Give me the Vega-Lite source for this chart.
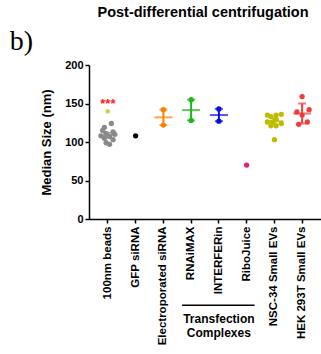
{
  "$schema": "https://vega.github.io/schema/vega-lite/v6.json",
  "autosize": "none",
  "padding": {"left": 89, "top": 65, "right": 0, "bottom": 135},
  "width": 232,
  "height": 154,
  "title": {"text": "Post-differential centrifugation", "font": "Liberation Sans", "fontSize": 14.5, "fontWeight": "bold", "color": "black", "anchor": "middle", "offset": 8, "dx": -2},
  "config": {
    "view": {"stroke": null},
    "axis": {"domainColor": "black", "domainWidth": 1.5, "tickColor": "black", "tickWidth": 1.5, "tickSize": 4, "labelColor": "black", "labelFont": "Liberation Sans", "labelFontWeight": "bold", "titleFont": "Liberation Sans", "titleFontWeight": "bold", "titleColor": "black", "grid": false},
    "axisX": {"labelAngle": -90, "labelFontSize": 11.5, "labelPadding": 3},
    "axisY": {"labelFontSize": 11, "labelPadding": 2, "titleFontSize": 13, "titlePadding": 11, "tickCount": 5}
  },
  "datasets": {
    "pts": [
      {"cat": "100nm beads", "size": 124, "slot": 2},
      {"cat": "100nm beads", "size": 119, "slot": -2},
      {"cat": "100nm beads", "size": 115, "slot": -3},
      {"cat": "100nm beads", "size": 113, "slot": 3},
      {"cat": "100nm beads", "size": 111, "slot": -1},
      {"cat": "100nm beads", "size": 110, "slot": 4},
      {"cat": "100nm beads", "size": 108, "slot": -4},
      {"cat": "100nm beads", "size": 107, "slot": 1},
      {"cat": "100nm beads", "size": 105, "slot": -2},
      {"cat": "100nm beads", "size": 103, "slot": 3},
      {"cat": "100nm beads", "size": 99, "slot": -1},
      {"cat": "100nm beads", "size": 97, "slot": 1},
      {"cat": "GFP siRNA", "size": 108, "slot": 0},
      {"cat": "Electroporated siRNA", "size": 142, "slot": 0},
      {"cat": "Electroporated siRNA", "size": 122, "slot": 0},
      {"cat": "RNAiMAX", "size": 155, "slot": 0},
      {"cat": "RNAiMAX", "size": 128, "slot": 0},
      {"cat": "INTERFERin", "size": 143, "slot": 0},
      {"cat": "INTERFERin", "size": 127, "slot": 0},
      {"cat": "RiboJuice", "size": 70, "slot": 0},
      {"cat": "NSC-34 Small EVs", "size": 135, "slot": -4},
      {"cat": "NSC-34 Small EVs", "size": 133, "slot": -2},
      {"cat": "NSC-34 Small EVs", "size": 135, "slot": 1},
      {"cat": "NSC-34 Small EVs", "size": 136, "slot": 4},
      {"cat": "NSC-34 Small EVs", "size": 126, "slot": -4},
      {"cat": "NSC-34 Small EVs", "size": 126, "slot": -1},
      {"cat": "NSC-34 Small EVs", "size": 129, "slot": 1},
      {"cat": "NSC-34 Small EVs", "size": 124, "slot": 4},
      {"cat": "NSC-34 Small EVs", "size": 121, "slot": -2},
      {"cat": "NSC-34 Small EVs", "size": 121, "slot": 1},
      {"cat": "NSC-34 Small EVs", "size": 103, "slot": 0},
      {"cat": "HEK 293T Small EVs", "size": 159, "slot": 0},
      {"cat": "HEK 293T Small EVs", "size": 139, "slot": -3},
      {"cat": "HEK 293T Small EVs", "size": 142, "slot": 4},
      {"cat": "HEK 293T Small EVs", "size": 135, "slot": 0},
      {"cat": "HEK 293T Small EVs", "size": 123, "slot": -2},
      {"cat": "HEK 293T Small EVs", "size": 126, "slot": 3}
    ],
    "summary": [
      {"cat": "100nm beads", "mean": 109, "lo": 106, "hi": 112},
      {"cat": "Electroporated siRNA", "mean": 132, "lo": 122, "hi": 142},
      {"cat": "RNAiMAX", "mean": 141.5, "lo": 128, "hi": 155},
      {"cat": "INTERFERin", "mean": 135, "lo": 127, "hi": 143},
      {"cat": "NSC-34 Small EVs", "mean": 127, "lo": 123, "hi": 131},
      {"cat": "HEK 293T Small EVs", "mean": 137, "lo": 124, "hi": 150}
    ]
  },
  "layer": [
    {
      "data": {"name": "pts"},
      "mark": {"type": "point", "filled": true, "size": 28, "opacity": 1},
      "encoding": {
        "x": {"field": "cat", "type": "nominal", "title": null,
              "scale": {"type": "band", "paddingInner": 0, "paddingOuter": 0.18,
                        "domain": ["100nm beads", "GFP siRNA", "Electroporated siRNA", "RNAiMAX", "INTERFERin", "RiboJuice", "NSC-34 Small EVs", "HEK 293T Small EVs"]}},
        "xOffset": {"field": "slot", "type": "quantitative", "scale": {"domain": [-8, 8]}},
        "y": {"field": "size", "type": "quantitative", "title": "Median Size  (nm)", "scale": {"domain": [0, 200]}},
        "color": {"field": "cat", "type": "nominal", "legend": null,
                  "scale": {"domain": ["100nm beads", "GFP siRNA", "Electroporated siRNA", "RNAiMAX", "INTERFERin", "RiboJuice", "NSC-34 Small EVs", "HEK 293T Small EVs"],
                            "range": ["#8a8a8a", "#000000", "#ff8000", "#1cb81c", "#0a0ae6", "#ec1a7c", "#bcbc00", "#f03c3c"]}}
      }
    },
    {
      "data": {"name": "summary"},
      "mark": {"type": "rule", "strokeWidth": 2},
      "encoding": {
        "x": {"field": "cat", "type": "nominal", "title": null},
        "y": {"field": "lo", "type": "quantitative", "title": "Median Size  (nm)"},
        "y2": {"field": "hi"},
        "color": {"field": "cat", "type": "nominal", "legend": null}
      }
    },
    {
      "data": {"name": "summary"},
      "mark": {"type": "tick", "size": 18, "thickness": 2},
      "encoding": {
        "x": {"field": "cat", "type": "nominal", "title": null},
        "y": {"field": "mean", "type": "quantitative", "title": "Median Size  (nm)"},
        "color": {"field": "cat", "type": "nominal", "legend": null}
      }
    },
    {
      "data": {"name": "summary"},
      "mark": {"type": "tick", "size": 8, "thickness": 2},
      "encoding": {
        "x": {"field": "cat", "type": "nominal", "title": null},
        "y": {"field": "lo", "type": "quantitative", "title": "Median Size  (nm)"},
        "color": {"field": "cat", "type": "nominal", "legend": null}
      }
    },
    {
      "data": {"name": "summary"},
      "mark": {"type": "tick", "size": 8, "thickness": 2},
      "encoding": {
        "x": {"field": "cat", "type": "nominal", "title": null},
        "y": {"field": "hi", "type": "quantitative", "title": "Median Size  (nm)"},
        "color": {"field": "cat", "type": "nominal", "legend": null}
      }
    },
    {
      "data": {"values": [{"cat": "100nm beads", "sig": "***", "v": 150}]},
      "mark": {"type": "text", "color": "#ff2020", "font": "Liberation Sans", "fontWeight": "bold", "fontSize": 13, "baseline": "middle"},
      "encoding": {
        "x": {"field": "cat", "type": "nominal", "title": null},
        "y": {"field": "v", "type": "quantitative", "title": "Median Size  (nm)"},
        "text": {"field": "sig"}
      }
    },
    {
      "data": {"values": [{"cat": "100nm beads", "sig": "*", "v": 137}]},
      "mark": {"type": "text", "color": "#c8c800", "font": "Liberation Sans", "fontWeight": "bold", "fontSize": 13, "baseline": "middle"},
      "encoding": {
        "x": {"field": "cat", "type": "nominal", "title": null},
        "y": {"field": "v", "type": "quantitative", "title": "Median Size  (nm)"},
        "text": {"field": "sig"}
      }
    },
    {
      "data": {"values": [{"from": "RNAiMAX", "to": "RiboJuice", "v": -112}]},
      "mark": {"type": "rule", "color": "black", "strokeWidth": 1.5, "xOffset": -9, "x2Offset": 8},
      "encoding": {
        "x": {"field": "from", "type": "nominal", "title": null},
        "x2": {"field": "to"},
        "y": {"field": "v", "type": "quantitative", "title": "Median Size  (nm)"}
      }
    },
    {
      "data": {"values": [{"cat": "INTERFERin", "label": ["Transfection", "Complexes"], "v": -124}]},
      "mark": {"type": "text", "color": "black", "font": "Liberation Sans", "fontWeight": "bold", "fontSize": 12, "baseline": "top", "lineHeight": 14},
      "encoding": {
        "x": {"field": "cat", "type": "nominal", "title": null},
        "y": {"field": "v", "type": "quantitative", "title": "Median Size  (nm)"},
        "text": {"field": "label"}
      }
    },
    {
      "data": {"values": [{"cat": "100nm beads", "label": "b)", "v": 219}]},
      "mark": {"type": "text", "color": "black", "font": "Liberation Serif", "fontSize": 28, "align": "left", "baseline": "alphabetic", "dx": -98},
      "encoding": {
        "x": {"field": "cat", "type": "nominal", "title": null},
        "y": {"field": "v", "type": "quantitative", "title": "Median Size  (nm)"},
        "text": {"field": "label"}
      }
    }
  ]
}
